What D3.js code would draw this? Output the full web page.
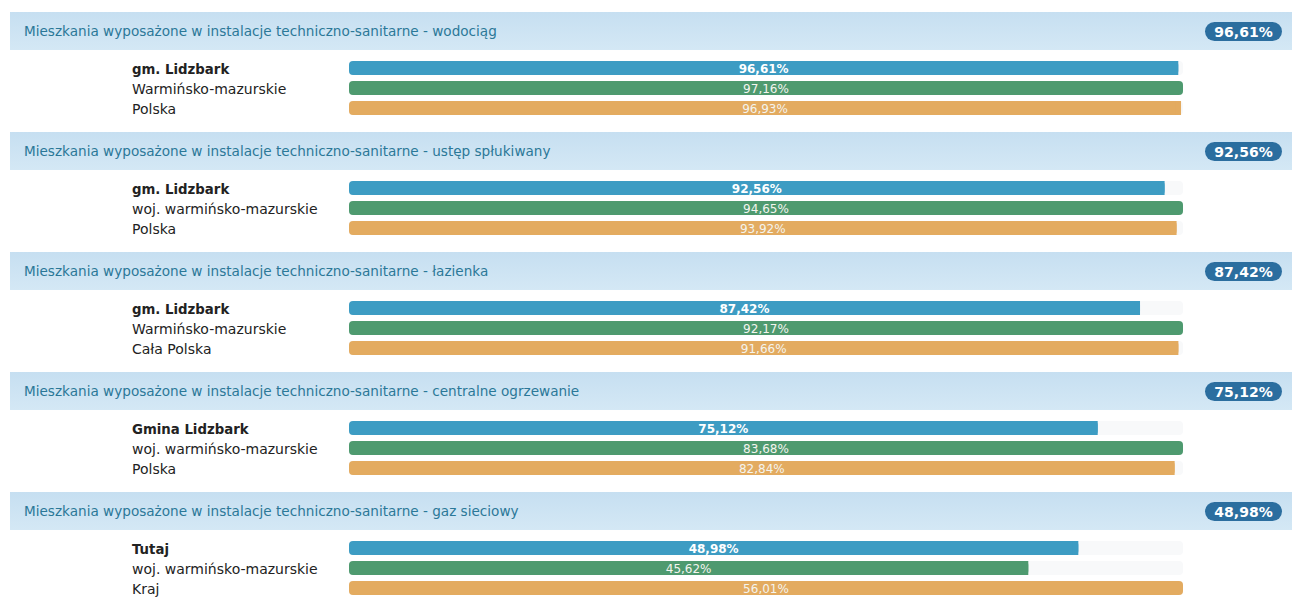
<!DOCTYPE html>
<html>
<head>
<meta charset="utf-8">
<script src="https://cdn.jsdelivr.net/npm/d3@7"></script>
<style>
  body { margin: 0; background: #fff; }
  svg { display: block; font-family: "DejaVu Sans", Verdana, sans-serif; }
</style>
</head>
<body>
<div id="wrapper"></div>
<script>
const titles = [
  "Mieszkania wyposażone w instalacje techniczno-sanitarne - wodociąg",
  "Mieszkania wyposażone w instalacje techniczno-sanitarne - ustęp spłukiwany",
  "Mieszkania wyposażone w instalacje techniczno-sanitarne - łazienka",
  "Mieszkania wyposażone w instalacje techniczno-sanitarne - centralne ogrzewanie",
  "Mieszkania wyposażone w instalacje techniczno-sanitarne - gaz sieciowy"
]
const localLabels = ["gm. Lidzbark", "gm. Lidzbark", "gm. Lidzbark", "Gmina Lidzbark", "Tutaj"]
const regionLabels = ["Warmińsko-mazurskie", "woj. warmińsko-mazurskie", "Warmińsko-mazurskie", "woj. warmińsko-mazurskie", "woj. warmińsko-mazurskie"]
const countryLabels = ["Polska", "Polska", "Cała Polska", "Polska", "Kraj"]

const localValues = [96.61, 92.56, 87.42, 75.12, 48.98]
const regionValues = [97.16, 94.65, 92.17, 83.68, 45.62]
const countryValues = [96.93, 93.92, 91.66, 82.84, 56.01]

const series = ["local", "region", "country"]
const colors = { local: "#3d9cc3", region: "#4e9a6f", country: "#e3ab60" }

const plFormat = d3.formatLocale({ decimal: ",", thousands: " ", grouping: [3], currency: ["", " zł"] }).format(".2f")
const pct = v => plFormat(v) + "%"

const dimensions = { width: 1294, height: 601 }

const groups = titles.map((t, i) => ({
  title: t,
  rows: [
    { key: "local", label: localLabels[i], value: localValues[i] },
    { key: "region", label: regionLabels[i], value: regionValues[i] },
    { key: "country", label: countryLabels[i], value: countryValues[i] }
  ]
}))

const wrapper = d3.select("#wrapper")
  .append("svg")
    .attr("width", dimensions.width)
    .attr("height", dimensions.height)

const defs = wrapper.append("defs")
const grad = defs.append("linearGradient")
    .attr("id", "hdr")
    .attr("x1", 0).attr("y1", 0).attr("x2", 0).attr("y2", 1)
grad.append("stop").attr("offset", "0%").attr("stop-color", "#c6dff1")
grad.append("stop").attr("offset", "100%").attr("stop-color", "#d4e8f5")

// group placement
const groupScale = d3.scaleBand()
  .domain(d3.range(groups.length))
  .range([12, 612])

const rowScale = d3.scaleBand()
  .domain(series)
  .range([46, 106])
  .paddingInner(0.3)
  .paddingOuter(0.15)

const barLeft = 349, barRight = 1183

const g = wrapper.selectAll(".group")
  .data(groups)
  .join("g")
    .attr("class", "group")
    .attr("transform", (d, i) => `translate(0, ${groupScale(i)})`)

// header band
g.append("rect")
    .attr("x", 10)
    .attr("y", 0)
    .attr("width", 1282)
    .attr("height", 38)
    .attr("fill", "url(#hdr)")

g.append("text")
    .attr("x", 24)
    .attr("y", 24)
    .attr("fill", "#2b7898")
    .style("font-size", "13.6px")
    .text(d => d.title)

// badge
g.append("rect")
    .attr("x", 1205)
    .attr("y", 10)
    .attr("width", 77)
    .attr("height", 19)
    .attr("rx", 9.5)
    .attr("fill", "#2b6e9f")

g.append("text")
    .attr("x", 1243.5)
    .attr("y", 24.5)
    .attr("text-anchor", "middle")
    .attr("fill", "#fff")
    .style("font-size", "14px")
    .style("font-weight", "bold")
    .text(d => pct(d.rows[0].value))

// rows
g.each(function(d) {
  const grp = d3.select(this)
  const max = d3.max(d.rows, r => r.value)
  const xScale = d3.scaleLinear()
    .domain([0, max])
    .range([barLeft, barRight])

  const row = grp.selectAll(".row")
    .data(d.rows)
    .join("g")
      .attr("class", "row")
      .attr("transform", r => `translate(0, ${rowScale(r.key)})`)

  const h = rowScale.bandwidth()

  row.append("text")
      .attr("x", 132)
      .attr("y", h / 2 + 6)
      .attr("fill", "#222")
      .style("font-size", r => r.key === "local" ? "13.3px" : "14px")
      .style("font-weight", r => r.key === "local" ? "bold" : "normal")
      .text(r => r.label)

  // faint track
  row.append("rect")
      .attr("x", xScale(0))
      .attr("y", 0)
      .attr("width", xScale(max) - xScale(0))
      .attr("height", h)
      .attr("rx", 4)
      .attr("fill", "#f8f9fa")

  row.append("rect")
      .attr("x", xScale(0))
      .attr("y", 0)
      .attr("width", r => xScale(r.value) - xScale(0))
      .attr("height", h)
      .attr("rx", 4)
      .attr("fill", r => colors[r.key])

  // square off right end of shorter bars
  row.filter(r => r.value < max)
    .append("rect")
      .attr("x", r => xScale(r.value) - 6)
      .attr("y", 0)
      .attr("width", 6)
      .attr("height", h)
      .attr("fill", r => colors[r.key])

  row.append("text")
      .attr("x", r => (xScale(0) + xScale(r.value)) / 2)
      .attr("y", h / 2 + 4.5)
      .attr("text-anchor", "middle")
      .attr("fill", r => r.key === "local" ? "#fff" : "#f4f4ee")
      .style("font-size", "12px")
      .style("font-weight", r => r.key === "local" ? "bold" : "normal")
      .text(r => pct(r.value))
})
</script>
</body>
</html>
